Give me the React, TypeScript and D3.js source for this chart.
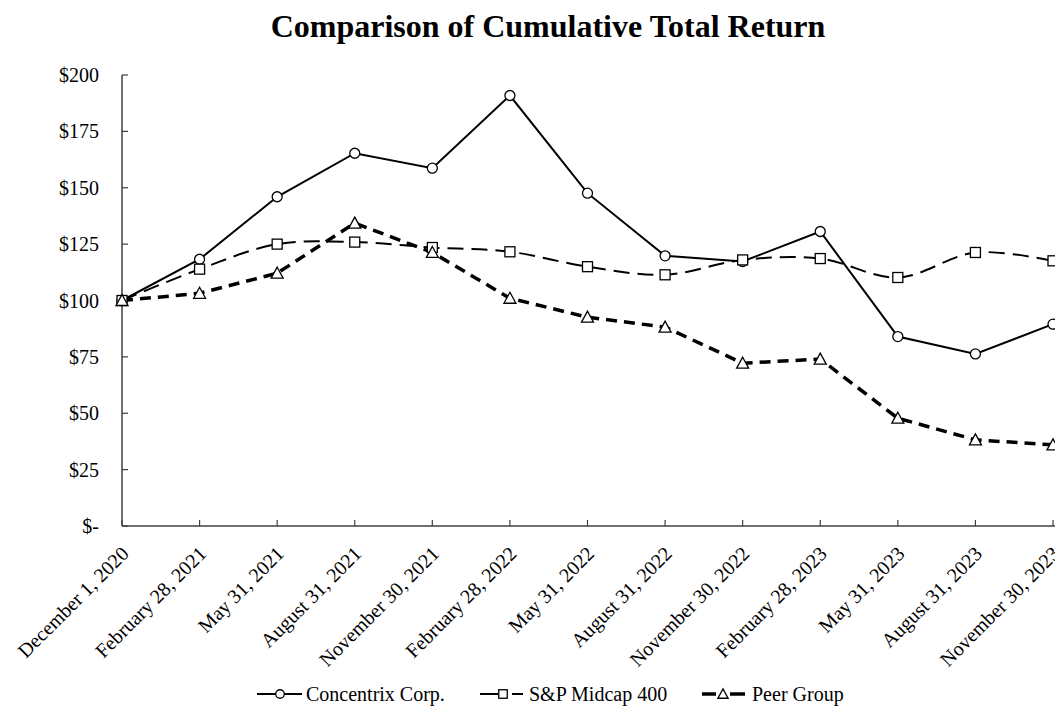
import React from 'react';
import * as d3 from 'd3';

const WIDTH = 1055;
const HEIGHT = 706;

const MARGIN = { top: 75, right: 2, bottom: 180, left: 122 };

const dates = [
  'December 1, 2020', 'February 28, 2021', 'May 31, 2021', 'August 31, 2021',
  'November 30, 2021', 'February 28, 2022', 'May 31, 2022', 'August 31, 2022',
  'November 30, 2022', 'February 28, 2023', 'May 31, 2023', 'August 31, 2023',
  'November 30, 2023',
];

const concentrix = [100, 118.3, 146, 165.3, 158.7, 190.9, 147.6, 119.8, 117.3, 130.6, 84, 76.3, 89.5];
const midcap = [100, 113.9, 125, 125.9, 123.5, 121.6, 115, 111.4, 118, 118.6, 110.2, 121.3, 117.6];
const peers = [100, 103.2, 112.1, 134.3, 121.3, 101, 92.6, 88.2, 72.2, 74, 47.8, 38.2, 36];

const yTicks = [0, 25, 50, 75, 100, 125, 150, 175, 200];

const FONT = '"Liberation Serif", "Times New Roman", serif';
const AXIS = '#404040';
const FS = 20;

type Series = {
  name: string;
  values: number[];
  marker: 'circle' | 'square' | 'triangle';
  width: number;
  dash: string;
  curve: d3.CurveFactory;
};

const series: Series[] = [
  { name: 'Concentrix Corp.', values: concentrix, marker: 'circle', width: 2, dash: '', curve: d3.curveLinear },
  { name: 'S&P Midcap 400', values: midcap, marker: 'square', width: 2, dash: '16,8', curve: d3.curveCatmullRom },
  { name: 'Peer Group', values: peers, marker: 'triangle', width: 3.5, dash: '11,7', curve: d3.curveLinear },
];

const Marker = ({ kind, x, y, s = 1 }: { kind: string; x: number; y: number; s?: number }) => {
  const common = { fill: '#fff', stroke: '#000', strokeWidth: 1.3 };
  if (kind === 'circle') return <circle cx={x} cy={y} r={5 * s} {...common} />;
  if (kind === 'square') return <rect x={x - 5 * s} y={y - 5 * s} width={10 * s} height={10 * s} {...common} />;
  return <path d={`M${x},${y - 6 * s}L${x + 6 * s},${y + 5 * s}L${x - 6 * s},${y + 5 * s}Z`} {...common} />;
};

export default function App() {
  const x = d3.scalePoint<string>()
    .domain(dates)
    .range([MARGIN.left, WIDTH - MARGIN.right]);

  const y = d3.scaleLinear()
    .domain([0, 200])
    .range([HEIGHT - MARGIN.bottom, MARGIN.top]);

  const y0 = y(0);

  const LY = 694;
  // legend: line segments, marker centre, text start
  const legendItems = [
    { s: series[0], segs: [[257, 302]], mx: 280, tx: 306 },
    { s: series[1], segs: [[480, 498], [512, 523]], mx: 503, tx: 529 },
    { s: series[2], segs: [[702, 716], [730, 745]], mx: 723, tx: 752 },
  ];

  return (
    <svg
      width={WIDTH}
      height={HEIGHT}
      viewBox={`0 0 ${WIDTH} ${HEIGHT}`}
      style={{ position: 'absolute', left: 0, top: 0, background: '#fff' }}
      fontFamily={FONT}
    >
      <text x={548} y={37} textAnchor="middle" fontSize={32} fontWeight="bold" fill="#000">
        Comparison of Cumulative Total Return
      </text>

      {/* y axis */}
      <line x1={MARGIN.left} x2={MARGIN.left} y1={y(200)} y2={y0} stroke={AXIS} strokeWidth={1.5} />
      {yTicks.map(t => (
        <g key={t}>
          <line x1={MARGIN.left} x2={MARGIN.left + 6} y1={y(t)} y2={y(t)} stroke={AXIS} strokeWidth={1.2} />
          <text x={99} y={y(t)} dy="0.35em" textAnchor="end" fontSize={FS} fill="#000">
            {t === 0 ? '$-' : `$${t}`}
          </text>
        </g>
      ))}

      {/* x axis */}
      <line x1={MARGIN.left} x2={WIDTH} y1={y0} y2={y0} stroke={AXIS} strokeWidth={1.5} />
      {dates.map(d => (
        <g key={d}>
          <line x1={x(d)} x2={x(d)} y1={y0} y2={y0 - 6} stroke={AXIS} strokeWidth={1.2} />
          <text
            transform={`translate(${(x(d) as number) + 3},${y0 + 24}) rotate(-45)`}
            textAnchor="end"
            dy="0.35em"
            fontSize={FS}
            fill="#000"
          >
            {d}
          </text>
        </g>
      ))}

      {/* lines */}
      {series.map(s => {
        const line = d3.line<number>()
          .x((_, i) => x(dates[i]) as number)
          .y(v => y(v))
          .curve(s.curve);
        return (
          <path
            key={s.name}
            d={line(s.values) || ''}
            fill="none"
            stroke="#000"
            strokeWidth={s.width}
            strokeDasharray={s.dash}
          />
        );
      })}
      {series.map(s => (
        <g key={s.name + '-m'}>
          {s.values.map((v, i) => (
            <Marker key={i} kind={s.marker} x={x(dates[i]) as number} y={y(v)} />
          ))}
        </g>
      ))}

      {/* legend */}
      {legendItems.map(({ s, segs, mx, tx }) => (
        <g key={s.name + '-l'}>
          {segs.map(([a, b], i) => (
            <line key={i} x1={a} x2={b} y1={LY} y2={LY} stroke="#000" strokeWidth={s.width} />
          ))}
          <Marker kind={s.marker} x={mx} y={LY} s={0.85} />
          <text x={tx} y={701} fontSize={FS} fill="#000">{s.name}</text>
        </g>
      ))}
    </svg>
  );
}
